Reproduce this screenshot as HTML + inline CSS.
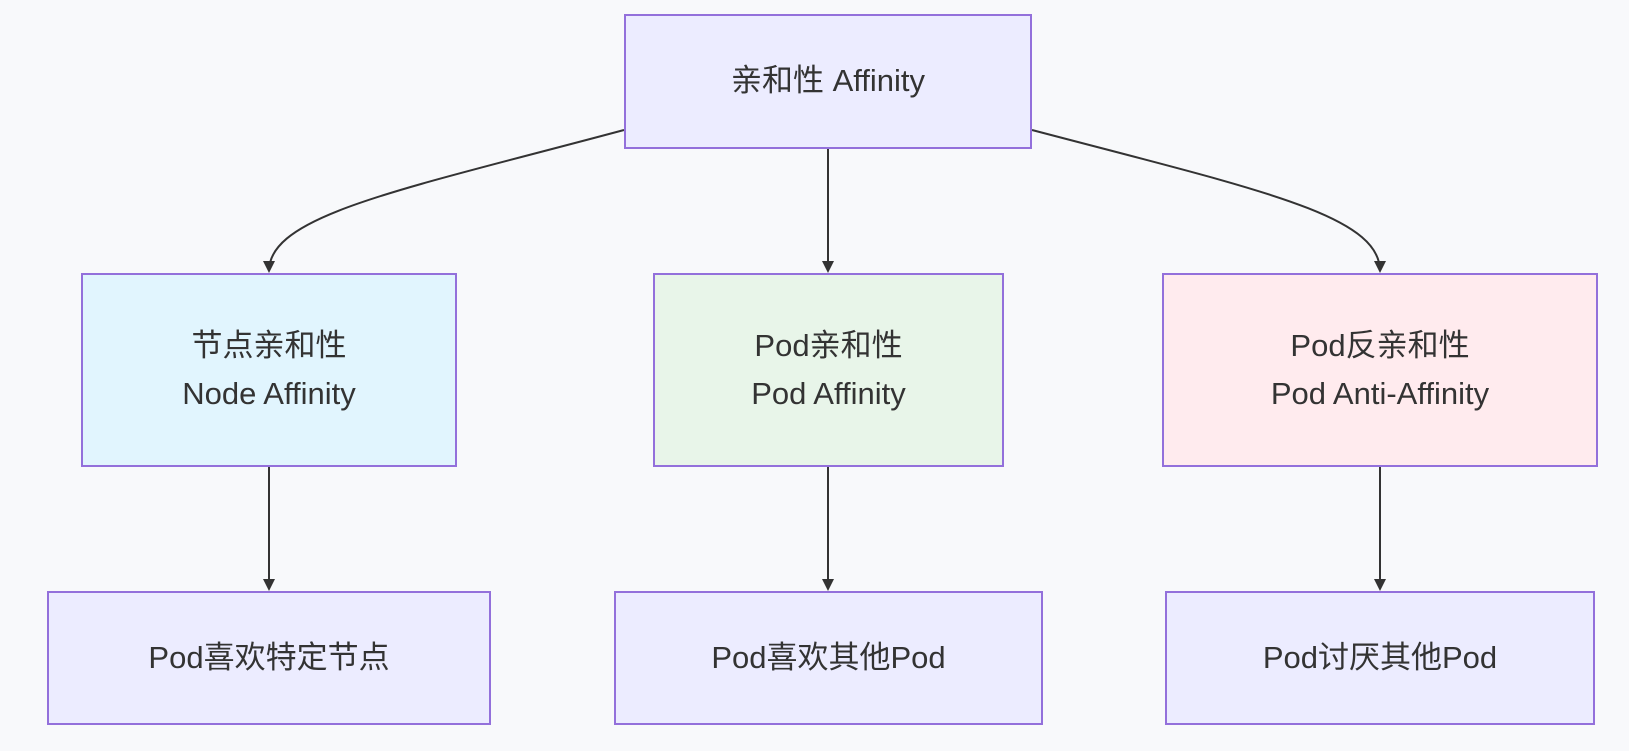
<!DOCTYPE html>
<html><head><meta charset="utf-8"><style>
html,body{margin:0;padding:0;background:#f8f9fb;}
.b{position:absolute;box-sizing:border-box;border:2px solid #9370DB;display:flex;align-items:center;justify-content:center;text-align:center;font-family:"Liberation Sans","Noto Sans CJK SC",sans-serif;font-size:31px;color:#333;line-height:1.55;}
</style></head><body>
<div style="position:relative;width:1629px;height:751px;overflow:hidden;">
<svg width="1629" height="751" style="position:absolute;left:0;top:0">
<defs><marker id="a" markerWidth="12" markerHeight="12" refX="10" refY="6" orient="auto" markerUnits="userSpaceOnUse"><path d="M0,0 L12,6 L0,12 z" fill="#333"/></marker></defs>
<g stroke="#333" stroke-width="2" fill="none" marker-end="url(#a)">
<path d="M624,130 C400,190 269,215 269,271"/>
<path d="M828,149 L828,271"/>
<path d="M1032,130 C1260,190 1380,215 1380,271"/>
<path d="M269,467 L269,589"/>
<path d="M828,467 L828,589"/>
<path d="M1380,467 L1380,589"/>
</g></svg>
<div class="b" style="left:624px;top:14px;width:408px;height:135px;background:#ECECFF">亲和性 Affinity</div>
<div class="b" style="left:81px;top:273px;width:376px;height:194px;background:#E1F5FE">节点亲和性<br>Node Affinity</div>
<div class="b" style="left:653px;top:273px;width:351px;height:194px;background:#E8F5E9">Pod亲和性<br>Pod Affinity</div>
<div class="b" style="left:1162px;top:273px;width:436px;height:194px;background:#FFEBEE">Pod反亲和性<br>Pod Anti-Affinity</div>
<div class="b" style="left:47px;top:591px;width:444px;height:134px;background:#ECECFF">Pod喜欢特定节点</div>
<div class="b" style="left:614px;top:591px;width:429px;height:134px;background:#ECECFF">Pod喜欢其他Pod</div>
<div class="b" style="left:1165px;top:591px;width:430px;height:134px;background:#ECECFF">Pod讨厌其他Pod</div>
</div>
</body></html>
